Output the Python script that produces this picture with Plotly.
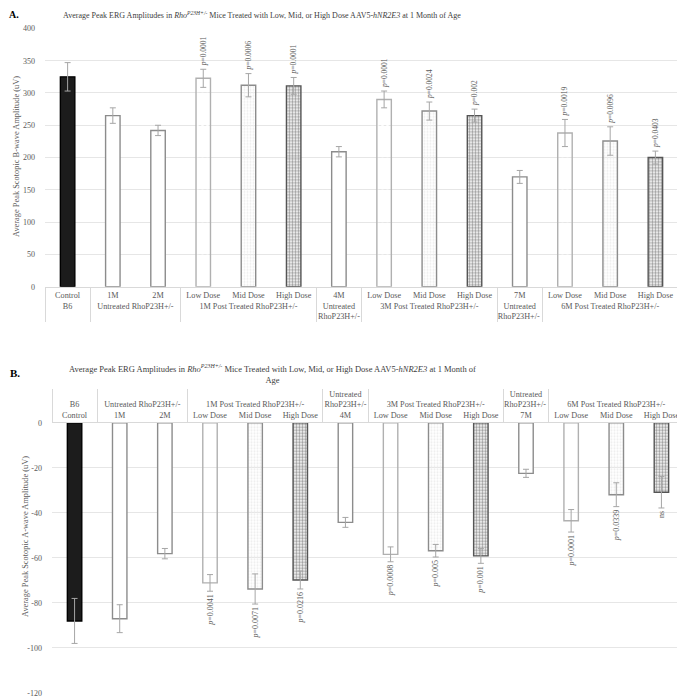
import plotly.graph_objects as go

# ---------------- data ----------------
groups = ["B6", "Untreated RhoP23H+/-", "Untreated RhoP23H+/-",
          "1M Post Treated RhoP23H+/-", "1M Post Treated RhoP23H+/-", "1M Post Treated RhoP23H+/-",
          "Untreated<br>RhoP23H+/-",
          "3M Post Treated RhoP23H+/-", "3M Post Treated RhoP23H+/-", "3M Post Treated RhoP23H+/-",
          "Untreated<br>RhoP23H+/- ",
          "6M Post Treated RhoP23H+/-", "6M Post Treated RhoP23H+/-", "6M Post Treated RhoP23H+/-"]
subs = ["Control", "1M", "2M", "Low Dose", "Mid Dose", "High Dose", "4M",
        "Low Dose", "Mid Dose", "High Dose", "7M", "Low Dose", "Mid Dose", "High Dose"]
kinds = ["control", "untreated", "untreated", "low", "mid", "high", "untreated",
         "low", "mid", "high", "untreated", "low", "mid", "high"]

b_wave = [325, 265, 242, 322.7, 312, 311, 209, 290, 272, 265, 170, 238, 225.6, 200]
b_err = [22, 12, 8, 14, 18, 13, 8, 13, 14, 10, 10, 21, 22, 10]
b_p = ["", "", "", "p=0.0001", "p=0.0006", "p=0.0001", "", "p=0.0001", "p=0.0024",
       "p=0.002", "", "p=0.0019", "p=0.0096", "p=0.0403"]
b_ticks = [0, 50, 100, 150, 200, 250, 300, 350, 400]

a_wave = [-88.1, -87.1, -58.2, -71.2, -73.9, -69.9, -44.3, -58.5, -56.9, -59.2,
          -22.5, -43.6, -32.0, -30.9]
a_err = [10, 6.2, 2.3, 3.7, 6.7, 4, 2.2, 3.3, 2.8, 3.3, 1.8, 5, 5.3, 7]
a_p = ["", "", "", "p=0.0041", "p=0.0071", "p=0.0216", "", "p=0.0008", "p=0.005",
       "p=0.001", "", "p=0.0001", "p=0.0339", "ns"]
a_ticks = [0, -20, -40, -60, -80, -100, -120]
a_ticktext = ["0", "-20", "-40", "-60", "-80", "-100", "-120"]

title_text = ("Average Peak ERG Amplitudes in <i>Rho</i><sup><i>P23H+/-</i></sup> Mice Treated with "
              "Low, Mid, or High Dose AAV5-<i>hNR2E3</i> at 1 Month of Age")
title_text_b = ("Average Peak ERG Amplitudes in <i>Rho</i><sup><i>P23H+/-</i></sup> Mice Treated with "
                "Low, Mid, or High Dose AAV5-<i>hNR2E3</i> at 1 Month of<br>Age")

# ---------------- styles ----------------
STYLE = {
    "control":   dict(color="#1c1c1c", line="#000000", shape="", fg="#000000", bg="#1c1c1c", size=8, sol=0.3),
    "untreated": dict(color="#ffffff", line="#8c8c8c", shape="", fg="#ffffff", bg="#ffffff", size=8, sol=0.3),
    "low":       dict(color="#ffffff", line="#b0b0b0", shape=".", fg="#606060", bg="#ffffff", size=5, sol=0.22),
    "mid":       dict(color="#ececec", line="#8c8c8c", shape=".", fg="#6a6a6a", bg="#ececec", size=3, sol=0.35),
    "high":      dict(color="#9a9a9a", line="#555555", shape=".", fg="#3c3c3c", bg="#a2a2a2", size=3, sol=0.5),
}

def marker_for(kinds):
    return dict(
        color=[STYLE[k]["color"] for k in kinds],
        line=dict(color=[STYLE[k]["line"] for k in kinds], width=1.4),
        pattern=dict(
            shape=[STYLE[k]["shape"] for k in kinds],
            fgcolor=[STYLE[k]["fg"] for k in kinds],
            bgcolor=[STYLE[k]["bg"] for k in kinds],
            size=[STYLE[k]["size"] for k in kinds],
            solidity=[STYLE[k]["sol"] for k in kinds],
            fillmode="replace",
        ),
    )

FONT = "Liberation Serif, Times New Roman, serif"
GRAY = "#595959"

def italic_p(s):
    return s.replace("p=", "<i>p</i>=") if s else s

x_multi = [groups, subs]
fig = go.Figure()

# Panel A
fig.add_trace(go.Bar(
    x=x_multi, y=b_wave, marker=marker_for(kinds),
    error_y=dict(type="data", array=b_err, visible=True, color="#a6a6a6", thickness=1, width=3),
    xaxis="x", yaxis="y", showlegend=False, hoverinfo="skip"))
fig.add_trace(go.Bar(
    x=x_multi, y=[v + e for v, e in zip(b_wave, b_err)],
    marker=dict(color="rgba(0,0,0,0)", line=dict(width=0)),
    text=[italic_p(s) for s in b_p], textposition="outside", textangle=-90,
    constraintext="none", cliponaxis=False,
    textfont=dict(family=FONT, size=7.5, color=GRAY),
    xaxis="x", yaxis="y", showlegend=False, hoverinfo="skip"))

# Panel B
fig.add_trace(go.Bar(
    x=x_multi, y=a_wave, marker=marker_for(kinds),
    error_y=dict(type="data", array=a_err, visible=True, color="#a6a6a6", thickness=1, width=3),
    xaxis="x2", yaxis="y2", showlegend=False, hoverinfo="skip"))
fig.add_trace(go.Bar(
    x=x_multi, y=[v - e for v, e in zip(a_wave, a_err)],
    marker=dict(color="rgba(0,0,0,0)", line=dict(width=0)),
    text=[italic_p(s) for s in a_p], textposition="outside", textangle=-90,
    constraintext="none", cliponaxis=False,
    textfont=dict(family=FONT, size=8, color=GRAY),
    xaxis="x2", yaxis="y2", showlegend=False, hoverinfo="skip"))

# the page body adds an 8px offset; size the figure to the visible window
OFF = 8
W, H = 685 - OFF, 698 - OFF
def px_x(p): return (p - OFF) / W
def px_y(p): return 1 - (p - OFF) / H

tickfont = dict(family=FONT, size=8.2, color=GRAY)
xcommon = dict(type="multicategory", showdividers=True, dividercolor="#d9d9d9", dividerwidth=1,
               showline=True, linecolor="#d9d9d9", linewidth=1, tickfont=tickfont, tickangle=0,
               showgrid=False, ticks="", automargin=False, zeroline=False)
ycommon = dict(showgrid=True, gridcolor="#e6e6e6", gridwidth=1, zeroline=False, showline=False,
               tickfont=dict(family=FONT, size=8, color=GRAY), ticks="", ticklabelstandoff=9,
               automargin=False)

fig.update_layout(
    template="none",
    width=W, height=H,
    margin=dict(l=0, r=0, t=0, b=0, pad=0),
    paper_bgcolor="white", plot_bgcolor="white",
    barmode="overlay", bargap=0.68,
    font=dict(family=FONT, color=GRAY),
    xaxis=dict(domain=[px_x(45), px_x(678)], anchor="y", **xcommon),
    yaxis=dict(domain=[px_y(286.7), px_y(28.4)], anchor="x", range=[0, 400],
               tickvals=b_ticks, **ycommon),
    xaxis2=dict(domain=[px_x(52), px_x(684)], anchor="y2", side="top", **xcommon),
    yaxis2=dict(domain=[px_y(692.7), px_y(422.7)], anchor="x2", range=[-120, 0],
                tickvals=a_ticks, ticktext=a_ticktext, **ycommon),
    annotations=[
        dict(text="<b>A.</b>", x=px_x(8), y=px_y(8), xref="paper", yref="paper",
             xanchor="left", yanchor="top", showarrow=False, borderpad=0,
             font=dict(family=FONT, size=10, color="#000000")),
        dict(text="<b>B.</b>", x=px_x(8), y=px_y(373), xref="paper", yref="paper",
             xanchor="left", yanchor="middle", showarrow=False,
             font=dict(family=FONT, size=11, color="#000000")),
        dict(text=title_text, x=px_x(262), y=px_y(15), xref="paper", yref="paper",
             xanchor="center", yanchor="middle", showarrow=False,
             font=dict(family=FONT, size=8, color="#404040")),
        dict(text=title_text_b, x=px_x(272), y=px_y(374), xref="paper", yref="paper",
             xanchor="center", yanchor="middle", showarrow=False,
             font=dict(family=FONT, size=8.5, color="#404040")),
        dict(text="Average Peak Scotopic B-wave Amplitude (uV)", x=px_x(17), y=px_y(157),
             xref="paper", yref="paper", xanchor="center", yanchor="middle", textangle=-90,
             showarrow=False, font=dict(family=FONT, size=8.4, color=GRAY)),
        dict(text="Average Peak Scotopic A-wave Amplitude (uV)", x=px_x(25), y=px_y(537),
             xref="paper", yref="paper", xanchor="center", yanchor="middle", textangle=-90,
             showarrow=False, font=dict(family=FONT, size=8.4, color=GRAY)),
    ],
)

fig.write_html("out.html")
